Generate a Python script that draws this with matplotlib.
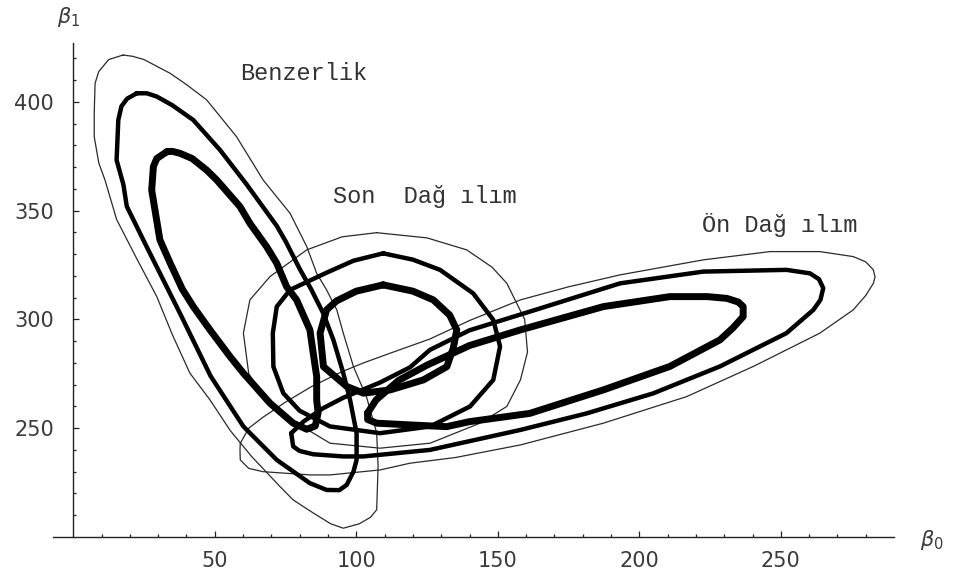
import numpy as np
import matplotlib
matplotlib.use('Agg')
import matplotlib.pyplot as plt
from matplotlib.ticker import MultipleLocator

# ------------------------------------------------------------------
# contour traces (beta0, beta1)
# ------------------------------------------------------------------
# Benzerlik (likelihood)
lik_outer = [(17.6, 421.6), (12.5, 419.5), (9, 414), (7.7, 408.6), (7.4, 395), (7.4, 384),
             (9, 372), (11.2, 364.1), (15.3, 346), (22.4, 328), (29.5, 310.5), (35, 293),
             (41.2, 275.3), (48.3, 263), (55.4, 249), (63, 237), (73, 223.2),
             (77.7, 217), (84.9, 210.9), (91, 206), (95.4, 204), (101, 206), (105, 209),
             (107.2, 212.5), (107.7, 232.3), (107.2, 247.8), (103.7, 264), (99, 278.3),
             (95.4, 293.7), (93.1, 304.4), (89.5, 313.6), (86, 321.2), (82.5, 333.5),
             (76.6, 348.8), (67.1, 364.1), (57.7, 384), (47.1, 401), (40, 408),
             (34.2, 413.2), (25, 419.5), (21, 421)]
lik_mid = [(22.4, 404), (19, 401.5), (17, 398), (15.9, 391.7), (15.3, 373.3), (17.7, 362),
           (18.9, 352), (25.9, 333.5), (37.7, 302.8), (48.5, 274), (60.1, 250.8),
           (71.9, 235.4), (83.6, 224.7), (89.5, 221.6), (94, 221.5), (96.6, 223.9),
           (99, 230), (100.1, 235.4), (100.1, 247.7), (97.8, 263), (95.4, 275.3),
           (91.9, 290.6), (88.3, 302.9), (84, 314), (80.1, 323), (75, 336), (71.9, 343),
           (61.3, 362), (51.8, 378), (42.4, 391.7), (35, 398.5), (29.5, 402.5), (26, 404)]
lik_inner = [(33, 377.1), (29.5, 374), (28.3, 370.3), (27.7, 359.5), (30.6, 336.6),
             (34.2, 326), (38.5, 314), (42.4, 305.9), (48.3, 295.2), (55.4, 282.9),
             (60.1, 275.3), (69.5, 261.5), (77.7, 252.3), (82.5, 249.5), (85.5, 251),
             (86.5, 257), (86, 263), (86, 273.8), (84.5, 287), (83.6, 295.2), (78.9, 309),
             (75.4, 315), (71.9, 325.8), (68.3, 333.5), (62.4, 344.2), (58.9, 351.9),
             (50.7, 364.1), (47.1, 368.7), (42, 374), (37.7, 376.4), (35, 377.3)]

# Son Dagilim (posterior)
post_outer = [(107.2, 339.9), (125, 337.5), (139, 332), (148, 324), (153.2, 316.6),
              (159.5, 300), (160.5, 285), (158, 272.2), (153.2, 260), (143.7, 252.3),
              (126.1, 243.1), (108.4, 240.8), (90.7, 243.1), (79, 252.3), (68, 263),
              (62, 275), (60.1, 293.7), (62.4, 309), (69.5, 319.7), (82.5, 332), (95, 338)]
post_mid = [(109.5, 330.4), (120, 327.5), (129.6, 322.8), (141.3, 312), (148.4, 299.8),
            (150.8, 287.6), (148.4, 272.2), (140.2, 260), (126.1, 250.8), (108.4, 247.7),
            (90.7, 250.8), (80, 258), (74.2, 266.1), (70.7, 278.3), (70.5, 293.7),
            (71.9, 305.9), (76.6, 313.6), (89.5, 321.5), (99, 327)]
post_inner = [(109.5, 315.9), (120, 313), (127.2, 309), (133, 302), (135.5, 295.2),
              (134.3, 287), (132, 278.3), (123.7, 272.2), (112, 267.6), (102.5, 266.1),
              (96.6, 269.2), (88.4, 278.3), (87.2, 293.7), (89.5, 304.4), (93, 308.5),
              (100, 313)]

# On Dagilim (prior)
prior_outer = [(59, 243), (62, 250), (67, 255), (75, 262), (84, 269), (95, 276),
               (102.5, 280), (112, 284.5), (126, 291), (140, 299.5), (158, 309),
               (175, 315), (193.2, 320.5), (222.6, 327.4), (246.2, 331.2), (263.8, 331.2),
               (275.6, 328.9), (280, 326.5), (282.7, 322.8), (283.3, 319.5), (282.7, 316.6),
               (280, 311), (275.6, 304.4), (263.8, 293.7), (240.3, 278.4), (216.7, 264.5),
               (187.3, 252.3), (158, 242.3), (135, 236.5), (119, 233.9), (108.4, 230.8),
               (90.7, 228.5), (83.6, 228.5), (67, 230), (62, 231.5), (59, 235.4), (58.9, 240)]
prior_mid = [(77, 247.7), (81.3, 253), (88, 259), (95.4, 264), (108.4, 271), (119, 278),
             (126, 286), (140, 295), (161.3, 303.6), (193.2, 316.6), (222.6, 322),
             (252, 322.8), (260.3, 321.2), (263.5, 318.5), (265, 314.4), (264, 309),
             (261.5, 304.4), (252, 293.7), (228.5, 278.4), (204.9, 266), (181.4, 256.8),
             (158, 249.2), (126, 240), (102.5, 237), (95.4, 237), (84.8, 238), (80, 239.5),
             (77.7, 241.6)]
prior_inner = [(104, 257), (107, 263), (115, 272), (125, 279), (140, 288), (158, 295.2),
               (187.3, 305.9), (210.8, 310.5), (224, 310.5), (230.9, 309.7), (235, 308),
               (236.7, 305.9), (236.7, 301.3), (233, 296), (228.5, 290.6), (210.8, 278.4),
               (187.3, 267.6), (161.3, 256.8), (140, 253), (131.9, 250.7), (119, 251.5),
               (107.2, 252.3), (104, 254)]

x_major = [50, 100, 150, 200, 250]
y_major = [250, 300, 350, 400]

labels = ["Benzerlik", "Son  Dağ ılım", "Ön Dağ ılım"]
label_pos = [(58.9, 413.3), (91.7, 356.5), (222.0, 343.4)]

# ------------------------------------------------------------------
fig = plt.figure(figsize=(9.54, 5.73), dpi=100)
ax = fig.add_axes([0, 0, 1, 1])
ax.set_xlim(-25.9, 311.2)
ax.set_ylim(183.4, 446.9)

styles = {'outer': dict(lw=0.9, color='#2a2a2a'),
          'mid': dict(lw=3.2, color='black'),
          'inner': dict(lw=5.0, color='black')}

def draw(pts, kind):
    b0 = [p[0] for p in pts] + [pts[0][0]]
    b1 = [p[1] for p in pts] + [pts[0][1]]
    ax.plot(b0, b1, solid_joinstyle='round', solid_capstyle='round', **styles[kind])

for pts, kind in [(lik_outer, 'outer'), (post_outer, 'outer'), (prior_outer, 'outer'),
                  (lik_mid, 'mid'), (post_mid, 'mid'), (prior_mid, 'mid'),
                  (lik_inner, 'inner'), (post_inner, 'inner'), (prior_inner, 'inner')]:
    draw(pts, kind)

# Mathematica-like axes crossing at (0, 200)
for s in ['top', 'right']:
    ax.spines[s].set_visible(False)
ax.spines['left'].set_position(('data', 0))
ax.spines['bottom'].set_position(('data', 200))
ax.spines['left'].set_bounds(200, 427)
ax.spines['bottom'].set_bounds(-7, 290)
for s in ['left', 'bottom']:
    ax.spines[s].set_linewidth(1.0)
    ax.spines[s].set_color('#222')

ax.set_xticks(x_major)
ax.set_yticks(y_major)
ax.tick_params(which='major', direction='in', length=4, width=0.9, color='#222',
               labelsize=15, labelcolor='#3a3a3a')
ax.tick_params(which='minor', direction='in', length=2.5, width=0.9, color='#222')
ax.tick_params(axis='x', which='major', pad=10)
ax.tick_params(axis='y', which='major', pad=14)
ax.set_xticks([t for t in range(10, 290, 10) if t not in x_major], minor=True)
ax.set_yticks([t for t in range(210, 430, 10) if t not in y_major], minor=True)

ax.text(-5.8, 439, r'$\beta_1$', fontsize=15, color='#3a3a3a', va='center', ha='left')
ax.text(299.2, 198.6, r'$\beta_0$', fontsize=15, color='#3a3a3a', va='center', ha='left')

for txt, (px, py) in zip(labels, label_pos):
    ax.text(px, py, txt, fontsize=17, family='Liberation Mono', color='#333',
            va='center', ha='left')

plt.savefig('out.png', dpi=100)
